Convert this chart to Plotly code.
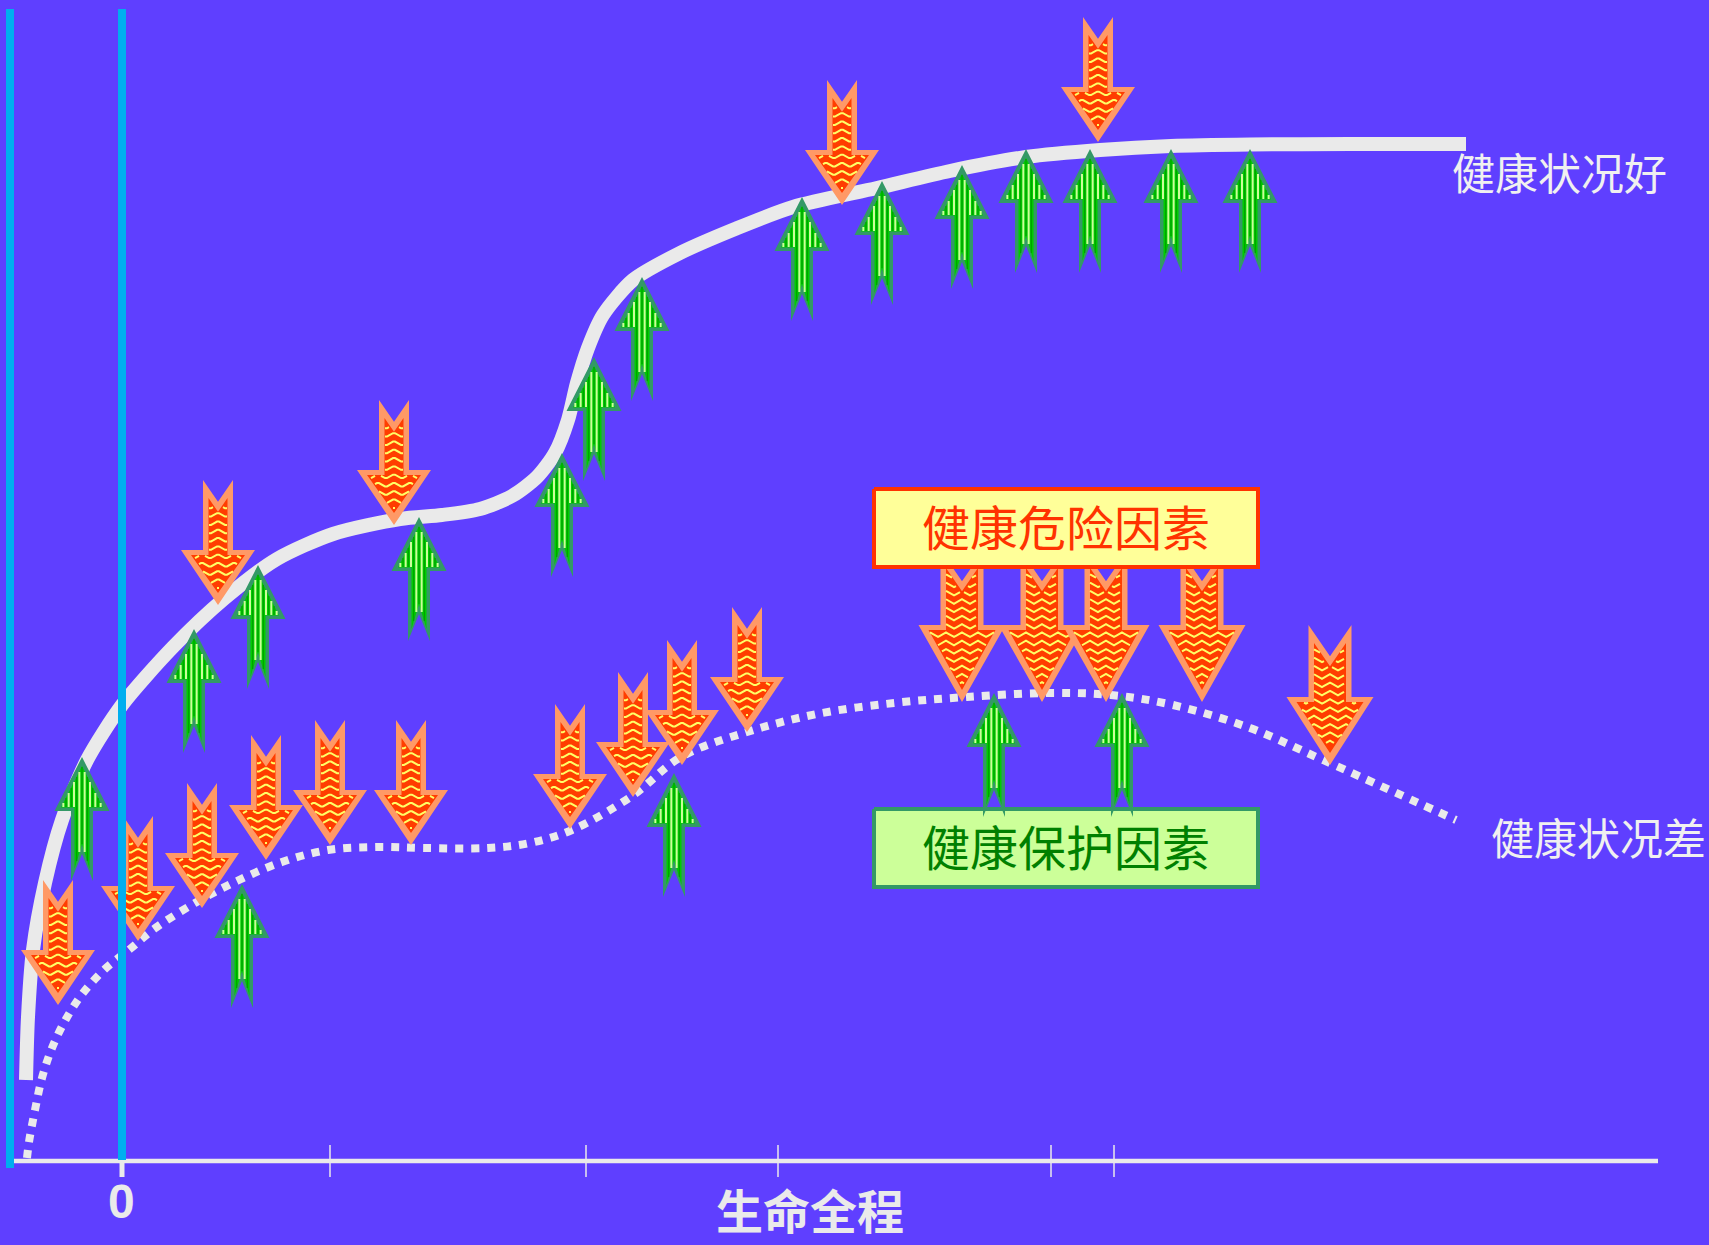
import plotly.graph_objects as go

# ---------- data (in picture units) ----------
good_x = [26, 28, 33, 45, 62, 87, 122, 173, 225, 277, 333, 400, 442, 480, 512, 537, 555, 568, 577, 588, 603, 633, 680, 735, 793, 877, 950, 1026, 1100, 1171, 1250, 1350, 1466]
good_y = [1080, 1017, 950, 883, 820, 760, 705, 647, 598, 559, 534, 519, 515, 509, 496, 477, 453, 420, 383, 348, 315, 280, 253, 229, 207, 188, 171, 157, 150, 146, 144.5, 144, 144]
poor_x = [27, 29, 35, 42, 52, 66, 83, 105, 130, 154, 195, 237, 282, 328, 376, 424, 488, 530, 572, 632, 681, 747, 817, 894, 967, 1047, 1111, 1173, 1250, 1323, 1456]
poor_y = [1158, 1142, 1110, 1078, 1048, 1019, 993, 969, 949, 929, 903, 881, 862, 850, 847, 848, 848, 843, 830, 796, 757, 732, 714, 703, 697, 693, 695, 705, 728, 760, 820]

red_x = [58, 138, 202, 266, 330, 411, 570, 633, 682, 747, 218, 394, 842, 1098]
red_tip = [1005, 941, 908, 860, 845, 845, 829, 797, 765, 732, 605, 525, 205, 142]
big_x = [962, 1042, 1106, 1202, 1330]
big_top = [550, 550, 550, 550, 625]
big_wing = [625, 625, 625, 625, 697]
big_tip = [702, 702, 702, 702, 765]
green_x = [82, 194, 258, 242, 419, 562, 594, 642, 674, 802, 882, 962, 1026, 1090, 1171, 1250, 994, 1122]
green_tip = [757, 629, 565, 884, 517, 453, 357, 277, 773, 197, 181, 165, 149, 149, 149, 149, 693, 693]

tick_x = [330, 586, 778, 1051, 1114]
zero_x = 122
axis_y = 1161
axis_start, axis_end = 14, 1658
cyan_lines = [(10, 9, 1168), (122, 9, 1160)]
risk_label = "健康危险因素"
protect_label = "健康保护因素"
good_label = "健康状况好"
poor_label = "健康状况差"
axis_label = "生命全程"

BG = "#5F3FFF"
WHITE = "#EAEAEA"
CYAN = "#00AEEF"
PEACH = "#FF9966"
RED = "#FF3D00"
YELLOW = "#FFFF66"
DGREEN = "#339966"


def poly_inside(px, py, pts):
    inside = False
    n = len(pts)
    for i in range(n):
        x1, y1 = pts[i]
        x2, y2 = pts[(i + 1) % n]
        if (y1 > py) != (y2 > py) and px < (x2 - x1) * (py - y1) / (y2 - y1) + x1:
            inside = not inside
    return inside


def add_poly(fig, pts, color):
    fig.add_trace(go.Scatter(
        x=[p[0] for p in pts] + [pts[0][0]], y=[p[1] for p in pts] + [pts[0][1]],
        mode="lines", fill="toself", fillcolor=color, line=dict(width=0),
        hoverinfo="skip", showlegend=False))


def texture(fig, xs, ys, color, width):
    fig.add_trace(go.Scatter(x=xs, y=ys, mode="lines", line=dict(color=color, width=width),
                             hoverinfo="skip", showlegend=False))


def red_arrow(fig, cx, top, wing, tip, hh, hs):
    nd = 1.45 * hs
    outer = [(cx - hs, top), (cx, top + nd), (cx + hs, top), (cx + hs, wing), (cx + hh, wing),
             (cx, tip), (cx - hh, wing), (cx - hs, wing)]
    ihs, ihh = hs - 5.5, hh - 10
    inner = [(cx - ihs, top + 18), (cx, top + nd + 10), (cx + ihs, top + 18), (cx + ihs, wing + 5),
             (cx + ihh, wing + 5), (cx, tip - 12), (cx - ihh, wing + 5), (cx - ihs, wing + 5)]
    add_poly(fig, outer, PEACH)
    add_poly(fig, inner, RED)
    # wavy yellow texture of the arrow body
    xs, ys = [], []
    row = top + 10
    while row < tip:
        open_seg = False
        x = int(cx - hh)
        while x <= cx + hh:
            phase = (x - int(cx)) % 16
            y = row + 2.25 - abs(phase - 8) / 8 * 4.5
            if poly_inside(x, y, inner):
                xs.append(x)
                ys.append(y)
                open_seg = True
            elif open_seg:
                xs.append(None)
                ys.append(None)
                open_seg = False
            x += 2
        xs.append(None)
        ys.append(None)
        row += 8.3
    texture(fig, xs, ys, YELLOW, 2)


def vertical_stripes(pts, cx, offset, y0, y1):
    xs, ys = [], []
    k = -8
    while k <= 8:
        x = cx + offset + k * 5.33
        y = y0
        seg = None
        while y <= y1:
            if poly_inside(x, y, pts):
                if seg is None:
                    seg = y
                last = y
            elif seg is not None:
                xs += [x, x, None]
                ys += [seg, last, None]
                seg = None
            y += 1
        k += 1
    return xs, ys


def green_arrow(fig, cx, tip):
    wing, tail = tip + 54, tip + 124
    hh, hs = 27.5, 11
    outer = [(cx, tip), (cx + hh, wing), (cx + hs, wing), (cx + hs, tail), (cx, tail - 27),
             (cx - hs, tail), (cx - hs, wing), (cx - hh, wing)]
    ihs, ihh = 7.5, 21
    inner = [(cx, tip + 9), (cx + ihh, wing - 3.5), (cx + ihs, wing - 3.5), (cx + ihs, tail - 12),
             (cx, tail - 37), (cx - ihs, tail - 12), (cx - ihs, wing - 3.5), (cx - ihh, wing - 3.5)]
    add_poly(fig, outer, DGREEN)
    add_poly(fig, inner, "#00CC00")
    xs, ys = vertical_stripes(inner, cx, 2.66, tip, tail)
    texture(fig, xs, ys, "#CCFF99", 2)
    xs, ys = vertical_stripes(inner, cx, 0, tip, tail)
    texture(fig, xs, ys, "#00A000", 1.2)


def box(fig, x0, x1, y0, y1, fill, edge):
    fig.add_trace(go.Scatter(x=[x0, x1, x1, x0, x0], y=[y0, y0, y1, y1, y0], mode="lines",
                             fill="toself", fillcolor=fill, line=dict(color=edge, width=4),
                             hoverinfo="skip", showlegend=False))


fig = go.Figure()

# axis
fig.add_trace(go.Scatter(x=[axis_start, axis_end], y=[axis_y, axis_y], mode="lines",
                         line=dict(color=WHITE, width=4.5), hoverinfo="skip", showlegend=False))
for t in tick_x:
    fig.add_trace(go.Scatter(x=[t, t], y=[1145, 1177], mode="lines",
                             line=dict(color=WHITE, width=1.5), hoverinfo="skip", showlegend=False))
fig.add_trace(go.Scatter(x=[zero_x, zero_x], y=[axis_y, 1177], mode="lines",
                         line=dict(color=WHITE, width=5), hoverinfo="skip", showlegend=False))

# curves
fig.add_trace(go.Scatter(x=good_x, y=good_y, mode="lines",
                         line=dict(color=WHITE, width=14, shape="spline", smoothing=0.75),
                         hoverinfo="skip", showlegend=False))
fig.add_trace(go.Scatter(x=poor_x, y=poor_y, mode="lines",
                         line=dict(color=WHITE, width=8, dash="8px,8px", shape="spline", smoothing=1.0),
                         hoverinfo="skip", showlegend=False))

# arrows
for cx, tip in zip(red_x, red_tip):
    red_arrow(fig, cx, tip - 125, tip - 55, tip, 37, 15)
for cx, t, w, tip in zip(big_x, big_top, big_wing, big_tip):
    red_arrow(fig, cx, t, w, tip, 43.5, 21.5)

# risk box hides the red arrow tails; green arrow tails sit on the protect box
box(fig, 874, 1258, 489, 567, "#FFFF99", "#FF3300")
box(fig, 874, 1258, 809, 887, "#CCFF99", DGREEN)

for cx, tip in zip(green_x, green_tip):
    green_arrow(fig, cx, tip)

# cyan verticals
for x, y0, y1 in cyan_lines:
    fig.add_trace(go.Scatter(x=[x, x], y=[y0, y1], mode="lines",
                             line=dict(color=CYAN, width=8), hoverinfo="skip", showlegend=False))

CJK = "Noto Sans CJK SC"
notes = [
    dict(x=1066, y=525, text=risk_label, font=dict(family=CJK, size=48, color="#FF3300")),
    dict(x=1066, y=845, text=protect_label, font=dict(family=CJK, size=48, color="#008000")),
    dict(x=1559, y=171, text=good_label, font=dict(family=CJK, size=43, color="#F0F0F0")),
    dict(x=1598, y=836, text=poor_label, font=dict(family=CJK, size=43, color="#F0F0F0")),
    dict(x=810, y=1208, text="<b>" + axis_label + "</b>", font=dict(family=CJK, size=47, color=WHITE)),
    dict(x=121, y=1201, text="<b>0</b>", font=dict(family="Liberation Sans Narrow, Liberation Sans", size=48, color=WHITE)),
]
fig.update_layout(
    width=1709, height=1245, margin=dict(l=0, r=0, t=0, b=0),
    paper_bgcolor=BG, plot_bgcolor=BG, showlegend=False,
    xaxis=dict(range=[0, 1709], visible=False, fixedrange=True),
    yaxis=dict(range=[1245, 0], visible=False, fixedrange=True),
    annotations=[dict(n, xref="x", yref="y", showarrow=False, xanchor="center", yanchor="middle") for n in notes],
)
fig.write_html("out.html", config=dict(displayModeBar=False),
               post_script="document.body.style.margin='0';document.body.style.background='%s';" % BG)
